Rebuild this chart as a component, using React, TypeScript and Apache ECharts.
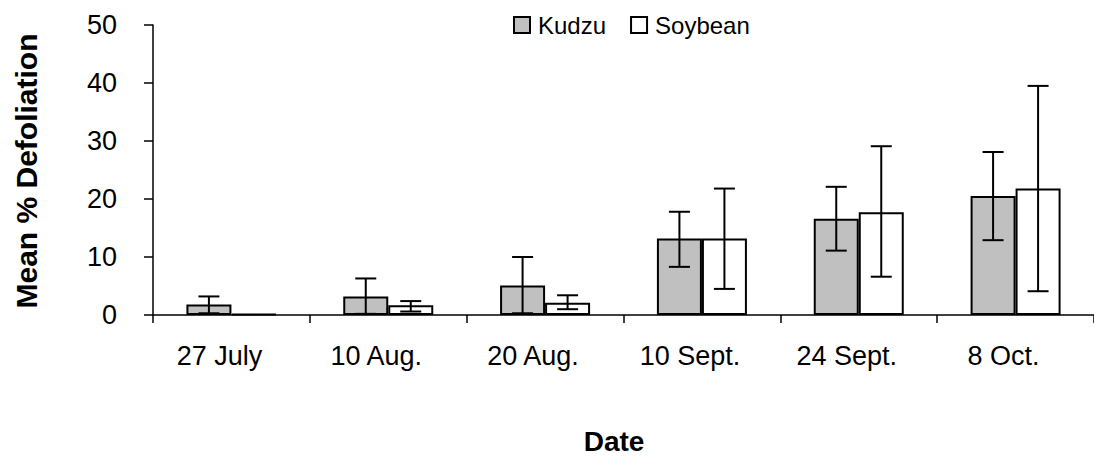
import React, { useEffect, useRef } from "react";
import * as echarts from "echarts";

const categories = ["27 July", "10 Aug.", "20 Aug.", "10 Sept.", "24 Sept.", "8 Oct."];
const kudzu = [1.8, 3.2, 5.1, 13.2, 16.6, 20.5];
const soybean = [0.2, 1.7, 2.1, 13.2, 17.7, 21.8];
const kudzuLow = [0.3, 0.2, 0.3, 8.3, 11.1, 12.9];
const kudzuHigh = [3.2, 6.3, 10.0, 17.8, 22.1, 28.1];
const soybeanLow = [null, 0.6, 1.0, 4.5, 6.6, 4.1];
const soybeanHigh = [null, 2.4, 3.4, 21.8, 29.1, 39.5];
const yTicks = [0, 10, 20, 30, 40, 50];

const FONT = "'Liberation Sans', Arial, Helvetica, sans-serif";
const BAR_W = 45;

function errData(low: (number | null)[], high: (number | null)[]) {
  return categories
    .map((_, i) => (low[i] == null || high[i] == null ? null : [i, low[i], high[i]]))
    .filter((d) => d !== null);
}

function errRenderer(offset: number) {
  return (params: any, api: any) => {
    const idx = api.value(0);
    const lo = api.coord([idx, api.value(1)]);
    const hi = api.coord([idx, api.value(2)]);
    const x = lo[0] + offset;
    const cap = 10.5;
    const style = { stroke: "#000", lineWidth: 2 };
    return {
      type: "group",
      children: [
        { type: "line", shape: { x1: x, y1: lo[1], x2: x, y2: hi[1] }, style },
        { type: "line", shape: { x1: x - cap, y1: hi[1], x2: x + cap, y2: hi[1] }, style },
        { type: "line", shape: { x1: x - cap, y1: lo[1], x2: x + cap, y2: lo[1] }, style },
      ],
    };
  };
}

export default function App() {
  const ref = useRef<HTMLDivElement>(null);
  useEffect(() => {
    if (!ref.current) return;
    const chart = echarts.init(ref.current, null, { renderer: "svg" });
    chart.setOption({
      animation: false,
      backgroundColor: "#fff",
      textStyle: { fontFamily: FONT, color: "#000" },
      grid: { left: 153, top: 25, width: 947, height: 290, containLabel: false },
      legend: {
        left: 508,
        top: 8,
        icon: "rect",
        itemWidth: 16,
        itemHeight: 16,
        itemGap: 24,
        textStyle: { fontSize: 24, fontFamily: FONT, color: "#000", padding: [0, 0, 0, 3] },
        data: ["Kudzu", "Soybean"],
      },
      xAxis: {
        type: "category",
        data: categories,
        boundaryGap: true,
        axisLine: { show: true, lineStyle: { color: "#000", width: 1.5 } },
        axisTick: { show: true, inside: false, length: 8, alignWithLabel: false, lineStyle: { color: "#000", width: 1.5 } },
        axisLabel: { fontSize: 27, fontFamily: FONT, color: "#000", margin: 27, padding: [0, 24, 0, 0] },
        splitLine: { show: false },
      },
      yAxis: {
        type: "value",
        min: yTicks[0],
        max: yTicks[yTicks.length - 1],
        interval: 10,
        axisLine: { show: true, lineStyle: { color: "#000", width: 1.5 } },
        axisTick: { show: true, inside: false, length: 9, lineStyle: { color: "#000", width: 1.5 } },
        axisLabel: { fontSize: 27, fontFamily: FONT, color: "#000", margin: 36 },
        splitLine: { show: false },
      },
      graphic: [
        {
          type: "text",
          x: 26,
          y: 171,
          rotation: Math.PI / 2,
          style: {
            text: "Mean % Defoliation",
            font: `bold 30px ${FONT}`,
            fill: "#000",
            textAlign: "center",
            textVerticalAlign: "middle",
            verticalAlign: "middle",
          },
        },
        {
          type: "text",
          x: 614,
          y: 441,
          style: {
            text: "Date",
            font: `bold 28px ${FONT}`,
            fill: "#000",
            textAlign: "center",
            textVerticalAlign: "middle",
            verticalAlign: "middle",
          },
        },
      ],
      series: [
        {
          name: "Kudzu",
          type: "bar",
          data: kudzu,
          barWidth: BAR_W,
          barGap: "0%",
          itemStyle: { color: "#c0c0c0", borderColor: "#000", borderWidth: 2 },
        },
        {
          name: "Soybean",
          type: "bar",
          data: soybean,
          barWidth: BAR_W,
          barGap: "0%",
          itemStyle: { color: "#ffffff", borderColor: "#000", borderWidth: 2 },
        },
        {
          type: "custom",
          name: "Kudzu err",
          data: errData(kudzuLow, kudzuHigh),
          renderItem: errRenderer(-BAR_W / 2),
          encode: { x: 0, y: [1, 2] },
          z: 10,
        },
        {
          type: "custom",
          name: "Soybean err",
          data: errData(soybeanLow, soybeanHigh),
          renderItem: errRenderer(BAR_W / 2),
          encode: { x: 0, y: [1, 2] },
          z: 10,
        },
      ],
    });
    return () => chart.dispose();
  }, []);
  return (
    <div
      ref={ref}
      style={{ position: "fixed", left: 0, top: 0, width: 1094, height: 458, background: "#fff" }}
    />
  );
}
